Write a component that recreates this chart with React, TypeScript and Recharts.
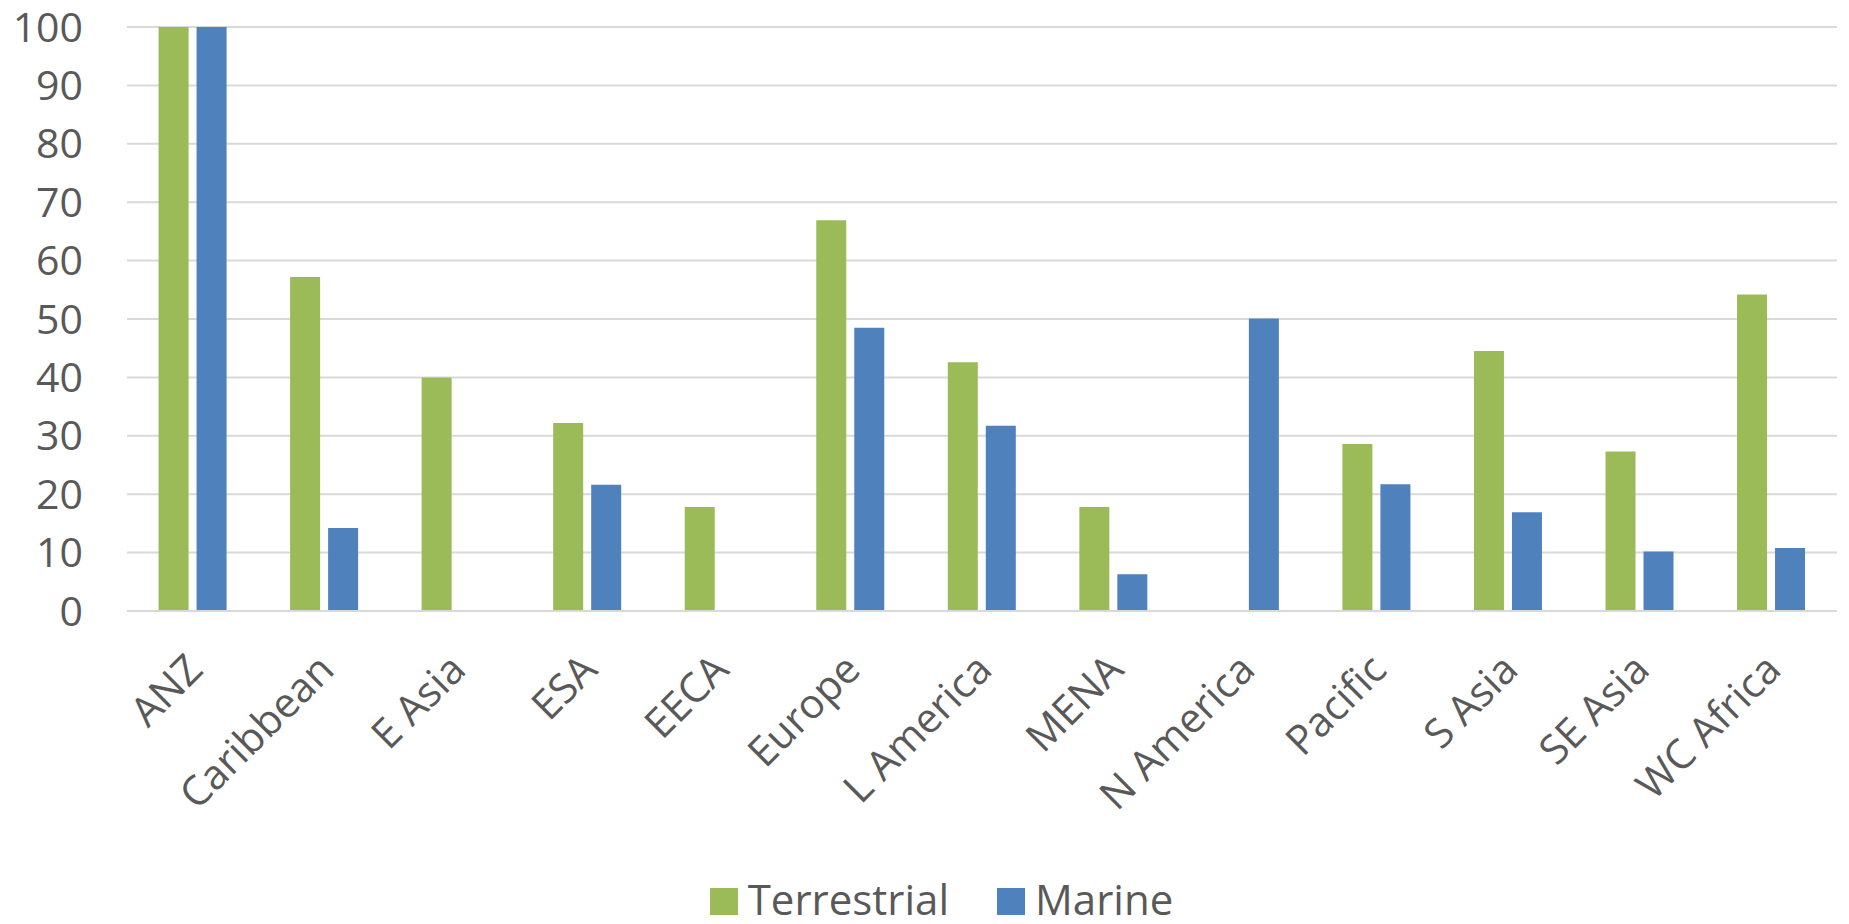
import { Bar, BarChart, CartesianGrid, Legend, XAxis, YAxis } from 'recharts';

const regions = [
  'ANZ',
  'Caribbean',
  'E Asia',
  'ESA',
  'EECA',
  'Europe',
  'L America',
  'MENA',
  'N America',
  'Pacific',
  'S Asia',
  'SE Asia',
  'WC Africa',
];
const terrestrial = [100, 57.2, 40, 32.2, 17.8, 66.9, 42.6, 17.8, 0, 28.6, 44.5, 27.3, 54.2];
const marine = [100, 14.2, 0, 21.6, 0, 48.5, 31.7, 6.3, 50.1, 21.7, 16.9, 10.2, 10.8];
const yTicks = [0, 10, 20, 30, 40, 50, 60, 70, 80, 90, 100];
const seriesOrder = ['Terrestrial', 'Marine'];

const GREEN = '#9BBB59';
const BLUE = '#4F81BD';
const TEXT = '#595959';
const GRID = '#d9d9d9';
const FONT = '"Open Sans", sans-serif';
const FONT_SIZE = 41;

const data = regions.map((name, i) => ({
  name,
  terrestrial: terrestrial[i],
  marine: marine[i],
}));

function LegendBox({ payload }: any) {
  const items = [...(payload || [])].sort(
    (a: any, b: any) => seriesOrder.indexOf(a.value) - seriesOrder.indexOf(b.value)
  );
  return (
    <div style={{ display: 'flex', justifyContent: 'center', fontFamily: FONT, fontSize: 42, color: TEXT }}>
      {items.map((item: any) => (
        <div key={item.value} style={{ display: 'flex', alignItems: 'center', margin: '0 24px' }}>
          <span style={{ width: 28, height: 27, background: item.color, display: 'inline-block', marginRight: 10, marginTop: 4 }} />
          <span style={{ lineHeight: '40px' }}>{item.value}</span>
        </div>
      ))}
    </div>
  );
}

// rotated category label, anchored like the original spreadsheet chart
function RegionTick({ x, y, payload }: any) {
  return (
    <g transform={`translate(${x + 12},${y + 61})`}>
      <text
        x={0}
        y={0}
        textAnchor="end"
        transform="rotate(-45)"
        fill={TEXT}
        fontSize={FONT_SIZE}
        fontFamily={FONT}
      >
        {payload.value}
      </text>
    </g>
  );
}

export default function App() {
  return (
    <div style={{ position: 'absolute', left: 0, top: 0, background: '#fff' }}>
      <BarChart
        width={1849}
        height={924}
        data={data}
        margin={{ top: 27, right: 12, left: 0, bottom: 0 }}
        barCategoryGap="24%"
        barGap={8}
      >
        <CartesianGrid vertical={false} stroke={GRID} strokeWidth={2} />
        <XAxis
          dataKey="name"
          interval={0}
          height={269}
          tickLine={false}
          tickSize={0}
          tickMargin={0}
          axisLine={{ stroke: GRID, strokeWidth: 2 }}
          tick={<RegionTick />}
        />
        <YAxis
          domain={[0, 100]}
          ticks={yTicks}
          width={127}
          axisLine={false}
          tickLine={false}
          tickSize={0}
          tickMargin={44}
          tick={{ fill: TEXT, fontSize: FONT_SIZE, fontFamily: FONT }}
        />
        <Legend verticalAlign="bottom" height={44} content={<LegendBox />} wrapperStyle={{ left: 23, bottom: 1 }} />
        <Bar dataKey="terrestrial" name="Terrestrial" fill={GREEN} isAnimationActive={false} />
        <Bar dataKey="marine" name="Marine" fill={BLUE} isAnimationActive={false} />
      </BarChart>
    </div>
  );
}
